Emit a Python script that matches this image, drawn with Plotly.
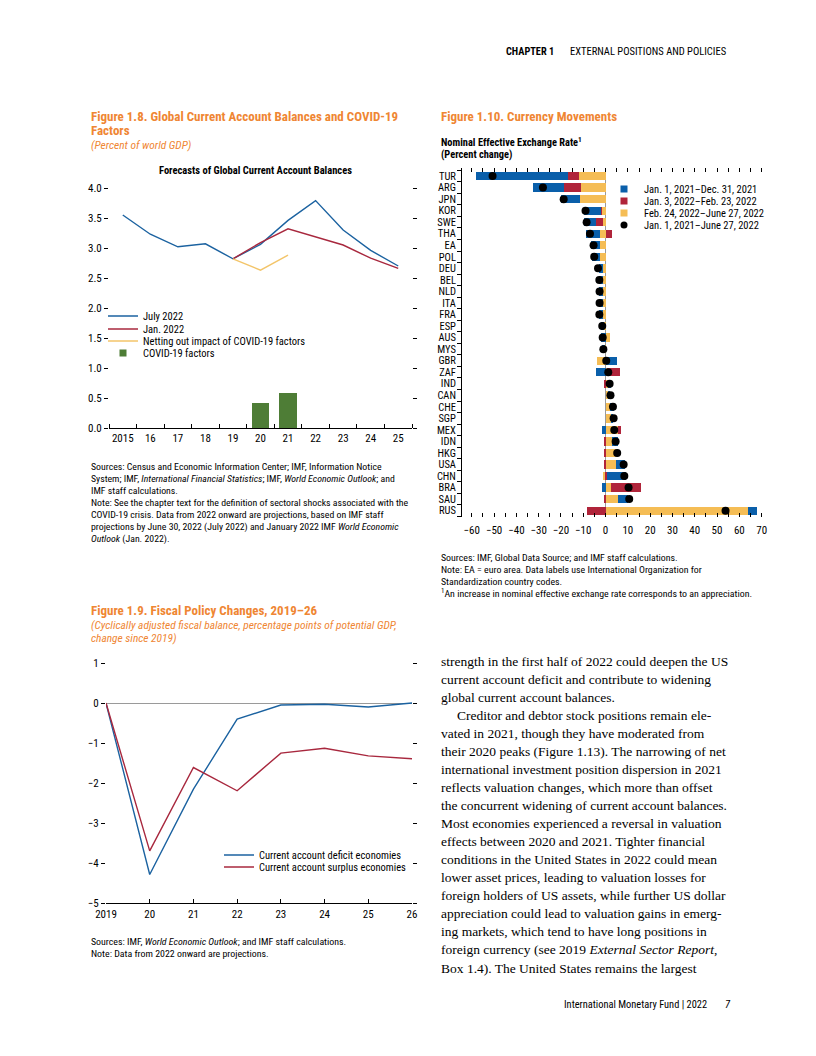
import plotly.graph_objects as go

W, H = 816, 1056
def X(px): return px / W
def Y(py): return 1 - py / H

NARROW = "Liberation Sans Narrow, Arial Narrow, Roboto Condensed, Liberation Sans, sans-serif"
SERIF = "Liberation Serif, Times New Roman, serif"
ORANGE = "#EF8633"
BLUE_L, RED_L, YEL_L, GREEN = "#1B62A0", "#A8283E", "#F3C56A", "#4E7D36"
BLUE_B, RED_B, YEL_B = "#0A5FAA", "#B0243A", "#F5BD55"

# ---------------- Figure 1.8 data ----------------
years_a = [2015, 2016, 2017, 2018, 2019, 2020, 2021, 2022, 2023, 2024, 2025]
years_a_labels = ["2015", "16", "17", "18", "19", "20", "21", "22", "23", "24", "25"]
july2022 = [3.55, 3.23, 3.02, 3.07, 2.82, 3.06, 3.46, 3.79, 3.30, 2.96, 2.70]
jan2022_years = [2019, 2020, 2021, 2022, 2023, 2024, 2025]
jan2022 = [2.82, 3.09, 3.32, 3.19, 3.05, 2.83, 2.66]
netting_years = [2019, 2020, 2021]
netting = [2.82, 2.63, 2.88]
covid_years = [2020, 2021]
covid = [0.42, 0.58]

# ---------------- Figure 1.10 data ----------------
countries = ["TUR", "ARG", "JPN", "KOR", "SWE", "THA", "EA", "POL", "DEU", "BEL",
             "NLD", "ITA", "FRA", "ESP", "AUS", "MYS", "GBR", "ZAF", "IND", "CAN",
             "CHE", "SGP", "MEX", "IDN", "HKG", "USA", "CHN", "BRA", "SAU", "RUS"]
p2021 = [-41.6, -13.9, -8.5, -7.5, -5.4, -6.5, -4.0, -3.8, -2.0, -2.0,
         -2.0, -2.0, -2.0, -1.5, -2.0, -1.2, 4.9, -4.3, 1.3, 0.8,
         1.8, 0.8, -1.5, 3.0, 0.0, 4.2, 8.4, -1.8, 4.5, 3.7]
p_janfeb = [-4.7, -7.4, 0.0, -0.4, -3.1, 2.7, 0.0, 0.0, 0.0, 0.0,
            0.0, 0.0, 0.0, 0.0, 0.0, 0.0, 0.0, 5.8, -0.6, 0.0,
            0.0, 0.0, 1.0, -0.6, -0.3, -0.3, 0.7, 13.4, -0.3, -8.5]
p_febjun = [-12.0, -11.1, -11.5, -1.8, -1.2, -2.5, -2.5, -2.5, -1.0, -1.0,
            -1.0, -1.0, -1.0, -0.5, 2.2, -0.3, -4.0, 0.5, 1.0, 1.2,
            1.9, 2.7, 5.7, 2.7, 5.2, 4.5, -1.0, 2.4, 5.7, 64.0]
total = [-50.7, -28.1, -18.8, -9.0, -8.5, -7.0, -5.4, -5.1, -3.4, -2.8,
         -2.7, -2.7, -2.8, -1.5, -1.3, -1.0, 0.3, 1.2, 1.8, 2.2,
         3.3, 3.6, 3.9, 4.5, 5.2, 8.1, 8.4, 10.3, 10.6, 53.8]
cidx = list(range(len(countries)))

# ---------------- Figure 1.9 data ----------------
years_c = [2019, 2020, 2021, 2022, 2023, 2024, 2025, 2026]
years_c_labels = ["2019", "20", "21", "22", "23", "24", "25", "26"]
deficit = [0.0, -4.28, -2.15, -0.40, -0.05, -0.03, -0.10, 0.0]
surplus = [0.0, -3.69, -1.61, -2.19, -1.25, -1.13, -1.32, -1.39]

fig = go.Figure()

# Fig 1.8 traces
fig.add_trace(go.Bar(x=covid_years, y=covid, marker=dict(color=GREEN, line=dict(width=0)),
                     width=0.65, xaxis="x", yaxis="y", showlegend=False, name="COVID-19 factors"))
fig.add_trace(go.Scatter(x=years_a, y=july2022, mode="lines", line=dict(color=BLUE_L, width=1.4),
                         name="July 2022", legend="legend", xaxis="x", yaxis="y"))
fig.add_trace(go.Scatter(x=jan2022_years, y=jan2022, mode="lines", line=dict(color=RED_L, width=1.4),
                         name="Jan. 2022", legend="legend2", xaxis="x", yaxis="y"))
fig.add_trace(go.Scatter(x=netting_years, y=netting, mode="lines", line=dict(color=YEL_L, width=1.4),
                         name="Netting out impact of COVID-19 factors", legend="legend3", xaxis="x", yaxis="y"))
fig.add_trace(go.Scatter(x=[None], y=[None], mode="markers",
                         marker=dict(symbol="square", size=7, color=GREEN),
                         name="COVID-19 factors", legend="legend4", xaxis="x", yaxis="y"))

# Fig 1.10 traces (stack order: yellow nearest zero, then red, then blue)
fig.add_trace(go.Bar(y=cidx, x=p_febjun, orientation="h", marker=dict(color=YEL_B, line=dict(width=0)),
                     width=0.72, xaxis="x2", yaxis="y2", showlegend=False))
fig.add_trace(go.Bar(y=cidx, x=p_janfeb, orientation="h", marker=dict(color=RED_B, line=dict(width=0)),
                     width=0.72, xaxis="x2", yaxis="y2", showlegend=False))
fig.add_trace(go.Bar(y=cidx, x=p2021, orientation="h", marker=dict(color=BLUE_B, line=dict(width=0)),
                     width=0.72, xaxis="x2", yaxis="y2", showlegend=False))
fig.add_trace(go.Scatter(y=cidx, x=total, mode="markers", marker=dict(color="black", size=8),
                         xaxis="x2", yaxis="y2", showlegend=False))
leg_items = [("Jan. 1, 2021–Dec. 31, 2021", "square", BLUE_B, "legend5"),
             ("Jan. 3, 2022–Feb. 23, 2022", "square", RED_B, "legend6"),
             ("Feb. 24, 2022–June 27, 2022", "square", YEL_B, "legend7"),
             ("Jan. 1, 2021–June 27, 2022", "circle", "black", "legend8")]
for name, sym, col, lg in leg_items:
    fig.add_trace(go.Scatter(x=[None], y=[None], mode="markers",
                             marker=dict(symbol=sym, size=7, color=col),
                             name=name, legend=lg, xaxis="x2", yaxis="y2"))

# Fig 1.9 traces
fig.add_trace(go.Scatter(x=years_c, y=deficit, mode="lines", line=dict(color=BLUE_L, width=1.4),
                         name="Current account deficit economies", legend="legend9", xaxis="x3", yaxis="y3"))
fig.add_trace(go.Scatter(x=years_c, y=surplus, mode="lines", line=dict(color=RED_L, width=1.4),
                         name="Current account surplus economies", legend="legend10", xaxis="x3", yaxis="y3"))

tickfont = dict(family=NARROW, size=11, color="black")
legfont = dict(family=NARROW, size=10.5, color="black")

def legend_at(x_text, y_center):
    return dict(x=X(x_text - 40), y=Y(y_center), xanchor="left", yanchor="middle",
                bgcolor="rgba(0,0,0,0)", font=legfont, itemwidth=30, borderwidth=0,
                tracegroupgap=0)

layout = dict(
    width=W, height=H, margin=dict(l=0, r=0, t=0, b=0),
    template="none", paper_bgcolor="white", plot_bgcolor="white",
    font=dict(family=NARROW, size=10, color="black"),
    barmode="relative", bargap=0,
    xaxis=dict(domain=[X(109), X(412)], anchor="y", range=[2014.5, 2025.5],
               tickmode="array", tickvals=years_a, ticktext=years_a_labels, ticks="",
               showline=True, linecolor="black", linewidth=1, showgrid=False, zeroline=False,
               minor=dict(tick0=2014.5, dtick=1, ticks="inside", ticklen=4, tickcolor="black", showgrid=False),
               tickfont=tickfont),
    yaxis=dict(domain=[Y(428), Y(182)], anchor="x", range=[0, 4.1], tick0=0, dtick=0.5,
               tickformat=".1f", ticks="outside", ticklen=4, tickcolor="black", mirror="ticks",
               showline=False, showgrid=False, zeroline=False, tickfont=tickfont),
    xaxis2=dict(domain=[X(462), X(765)], anchor="y2", range=[-64.4, 71.5], tick0=0, dtick=10,
                ticks="inside", ticklen=4, tickcolor="black", mirror="ticks", showline=False,
                showgrid=False, zeroline=True, zerolinecolor="#9a9a9a", zerolinewidth=1,
                ticklabelstandoff=5,
                minor=dict(tick0=0, dtick=5, ticks="inside", ticklen=4, tickcolor="black", showgrid=False),
                tickfont=tickfont),
    yaxis2=dict(domain=[Y(517), Y(168)], anchor="x2", range=[29.55, -0.7],
                tickmode="array", tickvals=cidx, ticktext=countries, ticks="",
                showline=True, linecolor="black", linewidth=1, showgrid=False, zeroline=False,
                ticklabelstandoff=3,
                minor=dict(tick0=-0.5, dtick=1, ticks="outside", ticklen=4, tickcolor="black", showgrid=False),
                tickfont=dict(family=NARROW, size=10.5, color="black")),
    xaxis3=dict(domain=[X(106), X(412)], anchor="y3", range=[2019, 2026],
                tickmode="array", tickvals=years_c, ticktext=years_c_labels, ticks="inside",
                ticklen=4, tickcolor="black", showline=True, linecolor="black", linewidth=1,
                showgrid=False, zeroline=False, tickfont=tickfont),
    yaxis3=dict(domain=[Y(903.3), Y(659)], anchor="x3", range=[-5, 1.1], tick0=0, dtick=1,
                ticks="outside", ticklen=4, tickcolor="black", mirror="ticks", showline=False,
                showgrid=False, zeroline=True, zerolinecolor="#9a9a9a", zerolinewidth=1,
                tickfont=tickfont),
    legend=legend_at(143, 316),
    legend2=legend_at(143, 329),
    legend3=legend_at(143, 341),
    legend4=legend_at(143, 353),
    legend5=legend_at(644, 189),
    legend6=legend_at(644, 201),
    legend7=legend_at(644, 213),
    legend8=legend_at(644, 225),
    legend9=legend_at(259, 855),
    legend10=legend_at(259, 867),
)
fig.update_layout(**layout)

ann = []
def txt(x, y, s, size=10, color="black", family=NARROW, anchor="left"):
    ann.append(dict(x=X(x), y=Y(y), xref="paper", yref="paper", text=s, showarrow=False,
                    xanchor=anchor, yanchor="middle", borderpad=0,
                    font=dict(size=size, color=color, family=family)))

# Header / footer
txt(505, 52, "<b>CHAPTER 1</b>", size=10.3)
txt(569, 52, "EXTERNAL POSITIONS AND POLICIES", size=10.5)
txt(563, 1004, "International Monetary Fund | 2022", size=10.4)
txt(724, 1004, "<i>7</i>", size=10.4)

# Figure 1.8 texts
txt(90, 116, "<b>Figure 1.8. Global Current Account Balances and COVID-19</b>", size=13, color=ORANGE)
txt(90, 131, "<b>Factors</b>", size=13, color=ORANGE)
txt(90, 144.5, "<i>(Percent of world GDP)</i>", size=11.4, color=ORANGE)
txt(255, 171, "<b>Forecasts of Global Current Account Balances</b>", size=10.5, anchor="center")
src8 = ["Sources: Census and Economic Information Center; IMF, Information Notice",
        "System; IMF, <i>International Financial Statistics</i>; IMF, <i>World Economic Outlook</i>; and",
        "IMF staff calculations.",
        "Note: See the chapter text for the definition of sectoral shocks associated with the",
        "COVID-19 crisis. Data from 2022 onward are projections, based on IMF staff",
        "projections by June 30, 2022 (July 2022) and January 2022 IMF <i>World Economic</i>",
        "<i>Outlook</i> (Jan. 2022)."]
for i, s in enumerate(src8):
    txt(90, 466 + i * 12.2, s, size=9.8)

# Figure 1.10 texts
txt(440, 116, "<b>Figure 1.10. Currency Movements</b>", size=13, color=ORANGE)
txt(440, 142, "<b>Nominal Effective Exchange Rate<sup>1</sup></b>", size=10.4)
txt(440, 155, "<b>(Percent change)</b>", size=10.4)
src10 = ["Sources: IMF, Global Data Source; and IMF staff calculations.",
         "Note: EA = euro area. Data labels use International Organization for",
         "Standardization country codes.",
         "<sup>1</sup>An increase in nominal effective exchange rate corresponds to an appreciation."]
for i, s in enumerate(src10):
    txt(440, 557 + i * 12, s, size=9.9)

# Figure 1.9 texts
txt(90, 610, "<b>Figure 1.9. Fiscal Policy Changes, 2019–26</b>", size=13, color=ORANGE)
txt(90, 624.5, "<i>(Cyclically adjusted fiscal balance, percentage points of potential GDP,</i>", size=11.4, color=ORANGE)
txt(90, 637.5, "<i>change since 2019)</i>", size=11.4, color=ORANGE)
src9 = ["Sources: IMF, <i>World Economic Outlook</i>; and IMF staff calculations.",
        "Note: Data from 2022 onward are projections."]
for i, s in enumerate(src9):
    txt(90, 941 + i * 12, s, size=9.9)

# Body text
body = ["strength in the first half of 2022 could deepen the US",
        "current account deficit and contribute to widening",
        "global current account balances.",
        "Creditor and debtor stock positions remain ele-",
        "vated in 2021, though they have moderated from",
        "their 2020 peaks (Figure 1.13). The narrowing of net",
        "international investment position dispersion in 2021",
        "reflects valuation changes, which more than offset",
        "the concurrent widening of current account balances.",
        "Most economies experienced a reversal in valuation",
        "effects between 2020 and 2021. Tighter financial",
        "conditions in the United States in 2022 could mean",
        "lower asset prices, leading to valuation losses for",
        "foreign holders of US assets, while further US dollar",
        "appreciation could lead to valuation gains in emerg-",
        "ing markets, which tend to have long positions in",
        "foreign currency (see 2019 <i>External Sector Report</i>,",
        "Box 1.4). The United States remains the largest"]
for i, s in enumerate(body):
    txt(456 if i == 3 else 440, 661 + i * 18.06, s, size=13.5, family=SERIF)

fig.update_layout(annotations=ann)

fig.write_html("out.html", config={"displayModeBar": False},
               post_script="document.body.style.margin='0';")
